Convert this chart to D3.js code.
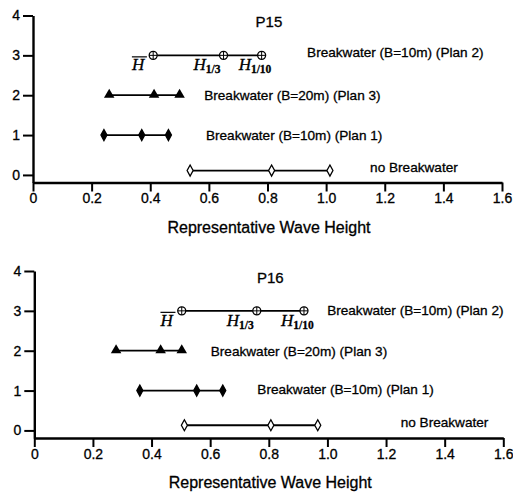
<!DOCTYPE html>
<html>
<head>
<meta charset="utf-8">
<script src="https://cdn.jsdelivr.net/npm/d3@7"></script>
<style>
  body { margin: 0; background: #fff; }
  svg { display: block; }
  text { font-family: "Liberation Sans", Arial, sans-serif; fill: #000; }
  .ink { stroke: #000; stroke-width: 0.3px; }
</style>
</head>
<body>
<svg id="chart" width="513" height="494"></svg>
<script>
// Data
var seriesNames = ["Breakwater (B=10m) (Plan 2)", "Breakwater (B=20m) (Plan 3)", "Breakwater (B=10m) (Plan 1)", "no Breakwater"];
var markerTypes = ["circlePlus", "triangle", "diamond", "openDiamond"];
var waveNames = ["H", "H1/3", "H1/10"];

var p15Rows = [3, 2, 1, 0.11];
var p15Values = [
  [0.41, 0.65, 0.78],
  [0.26, 0.413, 0.50],
  [0.242, 0.371, 0.462],
  [0.536, 0.814, 1.013]
];
var p15LabelX = [0.935, 0.584, 0.59, 1.15];
var p15LabelY = [3.06, 2, 1, 0.19];

var p16Rows = [3, 2, 1, 0.13];
var p16Values = [
  [0.503, 0.759, 0.92],
  [0.279, 0.431, 0.503],
  [0.36, 0.554, 0.643],
  [0.512, 0.807, 0.967]
];
var p16LabelX = [0.999, 0.602, 0.761, 1.25];
var p16LabelY = [3.02, 1.99, 1.02, 0.2];

var xTicks = [0, 0.2, 0.4, 0.6, 0.8, 1.0, 1.2, 1.4, 1.6];
var yTicks = [0, 1, 2, 3, 4];

var svg = d3.select("#chart");

function drawPanel(title, rows, values, labelX, labelY, left, top) {
  var w = 469, h = 167;
  var g = svg.append("g").attr("transform", "translate(" + left + "," + top + ")");

  var x = d3.scaleLinear().domain([0, 1.6]).range([0, w]);
  var y = d3.scaleLinear().domain([-0.19, 4]).range([h, 0]);

  // axes
  var xAxis = g.append("g")
    .attr("transform", "translate(0," + h + ")")
    .call(d3.axisBottom(x).tickValues(xTicks).tickSize(9).tickSizeOuter(0).tickPadding(2)
      .tickFormat(d => d === 0 ? "0" : d.toFixed(1)));
  var yAxis = g.append("g")
    .call(d3.axisLeft(y).tickValues(yTicks).tickSize(10).tickSizeOuter(0).tickPadding(3)
      .tickFormat(d3.format("d")));

  [xAxis, yAxis].forEach(a => {
    a.select(".domain").attr("stroke", "#000").attr("stroke-width", 2.4);
    a.selectAll(".tick line").attr("stroke", "#000").attr("stroke-width", 2);
    a.selectAll(".tick text").classed("ink", true).style("font-size", "14px")
      .style("font-family", "'Liberation Sans', Arial, sans-serif");
  });

  g.append("text").classed("ink", true)
    .attr("x", x(0.805)).attr("y", 11.5)
    .attr("text-anchor", "middle")
    .style("font-size", "15px")
    .text(title);

  g.append("text").classed("ink", true)
    .attr("x", x(0.805)).attr("y", h + 50)
    .attr("text-anchor", "middle")
    .style("font-size", "16px")
    .text("Representative Wave Height");

  values.forEach(function(vals, i) {
    var row = rows[i];
    var sg = g.append("g");
    sg.append("line")
      .attr("x1", x(vals[0])).attr("x2", x(vals[vals.length - 1]))
      .attr("y1", y(row)).attr("y2", y(row))
      .attr("stroke", "#000").attr("stroke-width", 1.8);

    vals.forEach(function(v) {
      var cx = x(v), cy = y(row);
      var type = markerTypes[i];
      if (type === "circlePlus") {
        sg.append("circle").attr("cx", cx).attr("cy", cy).attr("r", 4)
          .attr("fill", "#fff").attr("stroke", "#000").attr("stroke-width", 1.3);
        sg.append("path").attr("d", "M" + (cx - 4) + "," + cy + "H" + (cx + 4) + "M" + cx + "," + (cy - 4) + "V" + (cy + 4))
          .attr("stroke", "#000").attr("stroke-width", 1);
      } else if (type === "triangle") {
        sg.append("path").attr("d", d3.symbol(d3.symbolTriangle, 48)())
          .attr("transform", "translate(" + cx + "," + (cy - 0.5) + ")")
          .attr("fill", "#000");
      } else {
        sg.append("path").attr("d", "M0,-5.5L3,0L0,5.5L-3,0Z")
          .attr("transform", "translate(" + cx + "," + cy + ")")
          .attr("fill", type === "diamond" ? "#000" : "#fff")
          .attr("stroke", "#000").attr("stroke-width", 1.3);
      }
    });

    sg.append("text").classed("ink", true)
      .attr("x", x(labelX[i])).attr("y", y(labelY[i]))
      .attr("dominant-baseline", "central")
      .style("font-size", "13.6px")
      .text(seriesNames[i]);
  });

  // wave height labels under the plan 2 row
  var v2 = values[0], base = y(rows[0]) + 15;
  var dx = [-9, -3, -23], anchor = ["end", "end", "start"];
  waveNames.forEach(function(name, k) {
    var t = g.append("text").classed("ink", true)
      .attr("x", x(v2[k]) + dx[k]).attr("y", base)
      .attr("text-anchor", anchor[k])
      .style("font-family", "'Liberation Serif', 'Times New Roman', serif")
      .style("font-style", "italic")
      .style("font-size", "17px");
    t.append("tspan").text("H");
    if (name !== "H") {
      t.append("tspan").attr("dy", 3).style("font-size", "11.5px").style("font-style", "normal")
        .style("font-weight", "bold").text(name.slice(1));
    } else {
      var bb = t.node().getBBox();
      g.append("line")
        .attr("x1", bb.x + 1).attr("x2", bb.x + bb.width + 1)
        .attr("y1", base - 13.5).attr("y2", base - 13.5)
        .attr("stroke", "#000").attr("stroke-width", 1.2);
    }
  });
}

drawPanel("P15", p15Rows, p15Values, p15LabelX, p15LabelY, 33, 15.5);
drawPanel("P16", p16Rows, p16Values, p16LabelX, p16LabelY, 34.3, 271);
</script>
</body>
</html>
